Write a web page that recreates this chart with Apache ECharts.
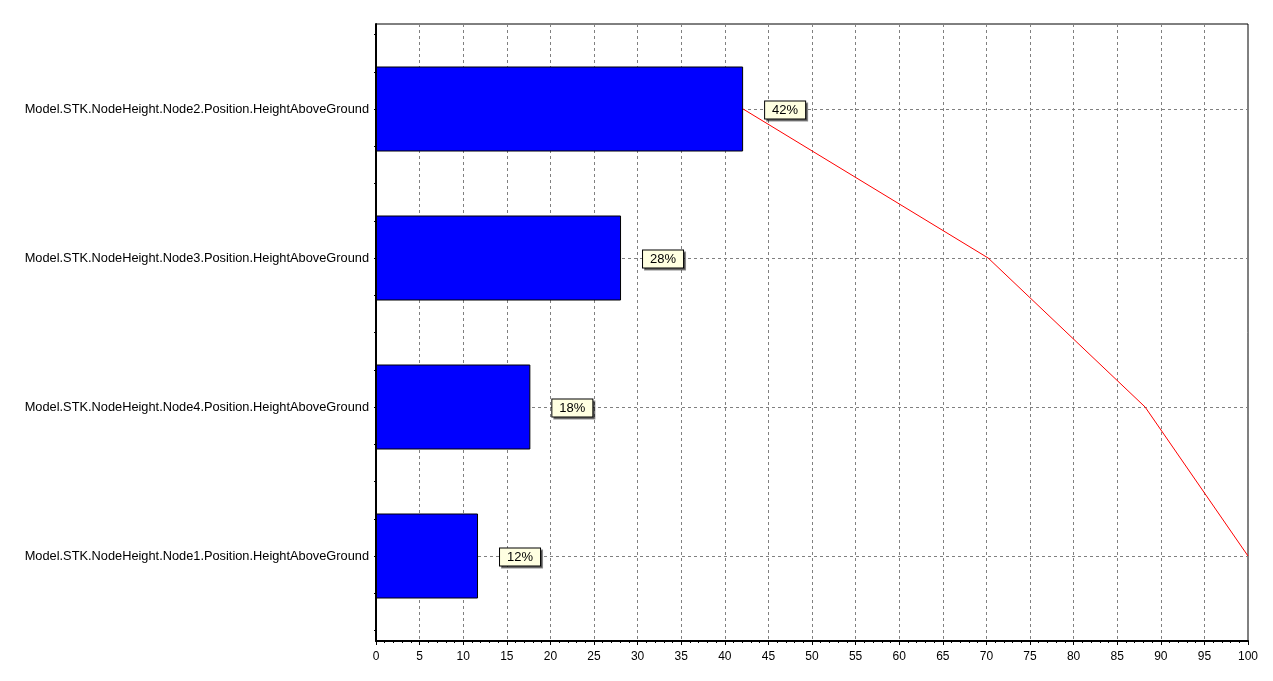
<!DOCTYPE html>
<html>
<head>
<meta charset="utf-8">
<script src="https://cdn.jsdelivr.net/npm/echarts@6/dist/echarts.min.js"></script>
<style>html,body{margin:0;padding:0;background:#fff}#c{width:1273px;height:681px}</style>
</head>
<body>
<div id="c"></div>
<script>
const categories = [
  'Model.STK.NodeHeight.Node2.Position.HeightAboveGround',
  'Model.STK.NodeHeight.Node3.Position.HeightAboveGround',
  'Model.STK.NodeHeight.Node4.Position.HeightAboveGround',
  'Model.STK.NodeHeight.Node1.Position.HeightAboveGround'
];
const barValues = [42.1, 28.1, 17.7, 11.7];
const cumulativeValues = [42.1, 70.2, 88.2, 100];
const percentLabels = ['42%', '28%', '18%', '12%'];
const xTicks = {min: 0, max: 100, step: 5};

const FONT = '"Liberation Sans", Arial, sans-serif';
const chart = echarts.init(document.getElementById('c'), null, {renderer: 'canvas'});
const gridDash = {color: '#808080', width: 1, type: [3, 3]};

chart.setOption({
  animation: false,
  backgroundColor: '#fff',
  textStyle: {fontFamily: FONT},
  grid: [
    {left: 376, right: 25, top: 24, bottom: 40, show: true, borderColor: '#000', borderWidth: 1, backgroundColor: 'transparent', containLabel: false},
    {left: 376, right: 25, top: 34.5, bottom: 50.5, containLabel: false}
  ],
  xAxis: [
    {
      gridIndex: 0, type: 'value', min: xTicks.min, max: xTicks.max, interval: xTicks.step,
      axisLine: {show: true, lineStyle: {color: '#000', width: 2}},
      axisTick: {show: true, length: 4, lineStyle: {color: '#000'}},
      minorTick: {show: true, splitNumber: 5, length: 2, lineStyle: {color: '#000'}},
      splitLine: {show: true, lineStyle: gridDash},
      axisLabel: {color: '#000', fontSize: 12, fontFamily: FONT, margin: 10}
    },
    {gridIndex: 1, type: 'value', min: xTicks.min, max: xTicks.max, show: false}
  ],
  yAxis: [
    {
      gridIndex: 0, type: 'value', min: 0, max: 1,
      axisLine: {show: true, onZero: false, lineStyle: {color: '#000', width: 2}},
      axisTick: {show: false}, axisLabel: {show: false}, splitLine: {show: false}
    },
    {
      gridIndex: 1, type: 'category', inverse: true, data: categories,
      axisLine: {show: false}, axisTick: {show: false}, splitLine: {show: false},
      axisLabel: {color: '#000', fontSize: 12.8, fontFamily: FONT, margin: 7, padding: [3, 0, 0, 0]}
    },
    {
      gridIndex: 1, type: 'value', min: 0, max: 16, interval: 1, position: 'left',
      axisLine: {show: false}, axisLabel: {show: false}, splitLine: {show: false},
      axisTick: {show: true, length: 2, lineStyle: {color: '#000'}}
    }
  ],
  series: [
    {
      type: 'bar', xAxisIndex: 1, yAxisIndex: 1, data: barValues, barWidth: 85, z: 3,
      itemStyle: {color: '#0000ff', borderColor: '#000', borderWidth: 1},
      label: {
        show: true, position: 'right', distance: 22,
        formatter: p => percentLabels[p.dataIndex],
        color: '#000', fontSize: 13, fontFamily: FONT,
        backgroundColor: '#ffffe1', borderColor: '#000', borderWidth: 1,
        padding: [3, 7, 1, 7], offset: [0, 1],
        shadowColor: 'rgba(0,0,0,0.45)', shadowOffsetX: 2, shadowOffsetY: 2, shadowBlur: 0
      },
      markLine: {
        silent: true, symbol: 'none', z: 1, animation: false,
        label: {show: false},
        lineStyle: gridDash,
        emphasis: {disabled: true},
        data: categories.map(c => ({yAxis: c}))
      }
    },
    {
      type: 'line', xAxisIndex: 1, yAxisIndex: 1, data: cumulativeValues, z: 4,
      symbol: 'none', showSymbol: false,
      lineStyle: {color: '#ff0000', width: 1}
    }
  ]
});
</script>
</body>
</html>
